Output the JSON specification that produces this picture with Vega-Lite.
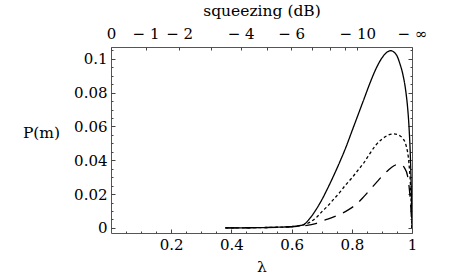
{
  "$schema": "https://vega.github.io/schema/vega-lite/v6.json",
  "autosize": "none",
  "width": 301,
  "height": 186,
  "padding": {"left": 111, "top": 47, "right": 38, "bottom": 46},
  "background": "white",
  "config": {
    "font": "DejaVu Serif",
    "view": {"stroke": "#555", "strokeWidth": 1},
    "axis": {"labelFont": "DejaVu Serif", "titleFont": "DejaVu Serif", "labelFontSize": 15, "titleFontSize": 15.5, "labelColor": "black", "titleColor": "black", "titleFontWeight": "normal", "domain": false, "grid": false, "tickColor": "#444", "tickWidth": 1}
  },
  "data": {"values": [
    {"lambda": 0.38, "P": 0.00002, "curve": "a"},
    {"lambda": 0.45, "P": 0.0001, "curve": "a"},
    {"lambda": 0.5, "P": 0.0002, "curve": "a"},
    {"lambda": 0.55, "P": 0.0004, "curve": "a"},
    {"lambda": 0.6, "P": 0.0008, "curve": "a"},
    {"lambda": 0.62, "P": 0.0012, "curve": "a"},
    {"lambda": 0.64, "P": 0.002, "curve": "a"},
    {"lambda": 0.66, "P": 0.0055, "curve": "a"},
    {"lambda": 0.68, "P": 0.0105, "curve": "a"},
    {"lambda": 0.7, "P": 0.0165, "curve": "a"},
    {"lambda": 0.72, "P": 0.0235, "curve": "a"},
    {"lambda": 0.74, "P": 0.031, "curve": "a"},
    {"lambda": 0.76, "P": 0.039, "curve": "a"},
    {"lambda": 0.78, "P": 0.0475, "curve": "a"},
    {"lambda": 0.8, "P": 0.057, "curve": "a"},
    {"lambda": 0.82, "P": 0.0665, "curve": "a"},
    {"lambda": 0.84, "P": 0.076, "curve": "a"},
    {"lambda": 0.86, "P": 0.0855, "curve": "a"},
    {"lambda": 0.88, "P": 0.094, "curve": "a"},
    {"lambda": 0.9, "P": 0.1005, "curve": "a"},
    {"lambda": 0.92, "P": 0.1043, "curve": "a"},
    {"lambda": 0.93, "P": 0.1048, "curve": "a"},
    {"lambda": 0.94, "P": 0.104, "curve": "a"},
    {"lambda": 0.95, "P": 0.1018, "curve": "a"},
    {"lambda": 0.96, "P": 0.097, "curve": "a"},
    {"lambda": 0.97, "P": 0.0905, "curve": "a"},
    {"lambda": 0.98, "P": 0.08, "curve": "a"},
    {"lambda": 0.985, "P": 0.072, "curve": "a"},
    {"lambda": 0.99, "P": 0.06, "curve": "a"},
    {"lambda": 0.995, "P": 0.04, "curve": "a"},
    {"lambda": 0.998, "P": 0.02, "curve": "a"},
    {"lambda": 1.0, "P": 0.0, "curve": "a"},
    {"lambda": 0.38, "P": 0.00002, "curve": "b"},
    {"lambda": 0.5, "P": 0.0002, "curve": "b"},
    {"lambda": 0.6, "P": 0.0008, "curve": "b"},
    {"lambda": 0.64, "P": 0.0018, "curve": "b"},
    {"lambda": 0.66, "P": 0.0033, "curve": "b"},
    {"lambda": 0.68, "P": 0.0058, "curve": "b"},
    {"lambda": 0.7, "P": 0.0095, "curve": "b"},
    {"lambda": 0.72, "P": 0.013, "curve": "b"},
    {"lambda": 0.74, "P": 0.017, "curve": "b"},
    {"lambda": 0.76, "P": 0.021, "curve": "b"},
    {"lambda": 0.78, "P": 0.0255, "curve": "b"},
    {"lambda": 0.8, "P": 0.0295, "curve": "b"},
    {"lambda": 0.82, "P": 0.034, "curve": "b"},
    {"lambda": 0.84, "P": 0.0385, "curve": "b"},
    {"lambda": 0.86, "P": 0.044, "curve": "b"},
    {"lambda": 0.88, "P": 0.049, "curve": "b"},
    {"lambda": 0.9, "P": 0.0525, "curve": "b"},
    {"lambda": 0.92, "P": 0.0548, "curve": "b"},
    {"lambda": 0.94, "P": 0.0556, "curve": "b"},
    {"lambda": 0.95, "P": 0.0553, "curve": "b"},
    {"lambda": 0.96, "P": 0.0545, "curve": "b"},
    {"lambda": 0.97, "P": 0.0528, "curve": "b"},
    {"lambda": 0.98, "P": 0.049, "curve": "b"},
    {"lambda": 0.99, "P": 0.038, "curve": "b"},
    {"lambda": 0.995, "P": 0.025, "curve": "b"},
    {"lambda": 1.0, "P": 0.0, "curve": "b"},
    {"lambda": 0.38, "P": 0.00002, "curve": "c"},
    {"lambda": 0.5, "P": 0.0002, "curve": "c"},
    {"lambda": 0.6, "P": 0.0007, "curve": "c"},
    {"lambda": 0.64, "P": 0.0012, "curve": "c"},
    {"lambda": 0.68, "P": 0.0025, "curve": "c"},
    {"lambda": 0.7, "P": 0.004, "curve": "c"},
    {"lambda": 0.72, "P": 0.0052, "curve": "c"},
    {"lambda": 0.74, "P": 0.0065, "curve": "c"},
    {"lambda": 0.76, "P": 0.008, "curve": "c"},
    {"lambda": 0.78, "P": 0.0098, "curve": "c"},
    {"lambda": 0.8, "P": 0.012, "curve": "c"},
    {"lambda": 0.82, "P": 0.0148, "curve": "c"},
    {"lambda": 0.84, "P": 0.0185, "curve": "c"},
    {"lambda": 0.86, "P": 0.0225, "curve": "c"},
    {"lambda": 0.88, "P": 0.0265, "curve": "c"},
    {"lambda": 0.9, "P": 0.0305, "curve": "c"},
    {"lambda": 0.92, "P": 0.034, "curve": "c"},
    {"lambda": 0.94, "P": 0.0368, "curve": "c"},
    {"lambda": 0.955, "P": 0.0377, "curve": "c"},
    {"lambda": 0.965, "P": 0.0373, "curve": "c"},
    {"lambda": 0.975, "P": 0.0355, "curve": "c"},
    {"lambda": 0.985, "P": 0.031, "curve": "c"},
    {"lambda": 0.99, "P": 0.025, "curve": "c"},
    {"lambda": 0.995, "P": 0.015, "curve": "c"},
    {"lambda": 1.0, "P": 0.0, "curve": "c"}
  ]},
  "resolve": {"axis": {"x": "independent", "y": "independent"}},
  "layer": [
    {
      "mark": {"type": "line", "color": "black", "strokeWidth": 1.3, "interpolate": "monotone", "clip": true},
      "encoding": {
        "x": {"field": "lambda", "type": "quantitative", "scale": {"domain": [0, 1], "nice": false, "zero": false},
          "axis": {"orient": "bottom", "title": "λ", "titleX": 150.5, "titleY": 38, "titleAlign": "center", "titleBaseline": "alphabetic",
            "values": [0.05, 0.1, 0.15, 0.2, 0.25, 0.3, 0.35, 0.4, 0.45, 0.5, 0.55, 0.6, 0.65, 0.7, 0.75, 0.8, 0.85, 0.9, 0.95, 1.0],
            "format": ".2~f",
            "labelExpr": "abs(datum.value*5 - round(datum.value*5)) < 0.001 ? datum.label : ''",
            "tickSize": {"condition": {"test": "abs(datum.value*5 - round(datum.value*5)) < 0.001", "value": -4}, "value": -2},
            "labelPadding": 8, "labelFlush": false}},
        "y": {"field": "P", "type": "quantitative", "scale": {"domain": [-0.003, 0.107], "nice": false, "zero": false},
          "axis": {"orient": "left", "title": "P(m)", "titleAngle": 0, "titleX": -70, "titleY": 90, "titleAlign": "center", "titleBaseline": "alphabetic",
            "values": [0, 0.005, 0.01, 0.015, 0.02, 0.025, 0.03, 0.035, 0.04, 0.045, 0.05, 0.055, 0.06, 0.065, 0.07, 0.075, 0.08, 0.085, 0.09, 0.095, 0.1, 0.105],
            "format": ".2~f",
            "labelExpr": "abs(datum.value*50 - round(datum.value*50)) < 0.001 ? datum.label : ''",
            "tickSize": {"condition": {"test": "abs(datum.value*50 - round(datum.value*50)) < 0.001", "value": -4}, "value": -2},
            "labelPadding": 8, "labelFlush": false}},
        "strokeDash": {"field": "curve", "type": "nominal", "legend": null,
          "scale": {"domain": ["a", "b", "c"], "range": [[1, 0], [3, 2.5], [12, 8]]}}
      }
    },
    {
      "mark": {"type": "point", "opacity": 0},
      "encoding": {
        "x": {"field": "lambda", "type": "quantitative",
          "axis": {"orient": "top", "title": "squeezing (dB)", "titleX": 150.5, "titleY": -32, "titleAlign": "center", "titleBaseline": "alphabetic",
            "values": [0, 0.11463, 0.22627, 0.33228, 0.43051, 0.51949, 0.59847, 0.66732, 0.72639, 0.77637, 0.81818, 1.0],
            "labelExpr": "datum.value < 0.05 ? '0' : datum.value < 0.15 ? '− 1' : datum.value < 0.25 ? '− 2' : (datum.value > 0.42 && datum.value < 0.44) ? '− 4' : (datum.value > 0.59 && datum.value < 0.61) ? '− 6' : (datum.value > 0.81 && datum.value < 0.83) ? '− 10' : datum.value > 0.99 ? '− ∞' : ''",
            "tickSize": -3, "labelPadding": 9, "labelFlush": false}},
        "y": {"field": "P", "type": "quantitative",
          "axis": {"orient": "right", "title": null, "labels": false,
            "values": [0, 0.005, 0.01, 0.015, 0.02, 0.025, 0.03, 0.035, 0.04, 0.045, 0.05, 0.055, 0.06, 0.065, 0.07, 0.075, 0.08, 0.085, 0.09, 0.095, 0.1, 0.105],
            "tickSize": {"condition": {"test": "abs(datum.value*50 - round(datum.value*50)) < 0.001", "value": -4}, "value": -2}}}
      }
    }
  ]
}
